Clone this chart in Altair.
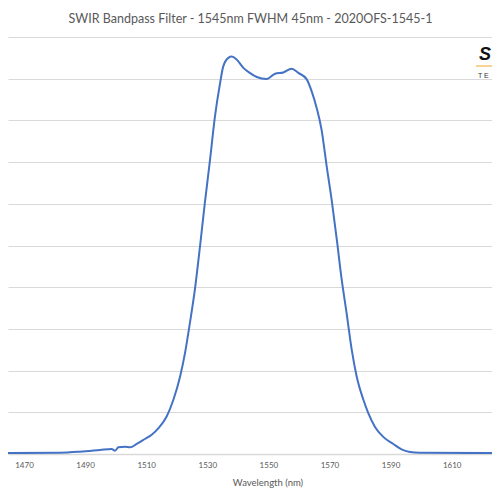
import altair as alt
import pandas as pd

wavelength_nm = [1462.1, 1481.8, 1488.3, 1494.9, 1498.7, 1499.8, 1500.9, 1503.1, 1504.7,
                 1506.9, 1509.6, 1511.8, 1514.0, 1516.7, 1518.9, 1521.1, 1522.7, 1524.3,
                 1526.0, 1527.6, 1529.2, 1530.9, 1532.5, 1534.2, 1535.2, 1536.9, 1538.0,
                 1539.6, 1541.8, 1543.9, 1546.2, 1549.4, 1552.2, 1554.9, 1557.6, 1559.8,
                 1562.5, 1564.2, 1565.8, 1567.4, 1569.1, 1570.7, 1572.4, 1574.0, 1575.6,
                 1577.3, 1578.9, 1581.1, 1582.7, 1584.9, 1587.6, 1590.9, 1593.6, 1596.3,
                 1599.6, 1625.8]
transmission_pct = [0.2, 0.3, 0.55, 0.96, 1.2, 0.8, 1.6, 1.75, 1.6,
                    2.4, 3.6, 4.6, 6.2, 9.0, 13.0, 18.6, 24.2, 31.4,
                    39.8, 49.7, 60.2, 70.6, 80.9, 89.0, 92.9, 95.0, 95.3,
                    94.6, 92.6, 91.4, 90.4, 89.9, 91.2, 91.5, 92.4, 91.4,
                    89.9, 86.9, 83.0, 77.8, 68.9, 61.0, 51.4, 41.8, 33.8,
                    24.9, 18.6, 13.0, 9.8, 6.5, 4.1, 2.4, 1.1, 0.5,
                    0.3, 0.2]
x_ticks = [1470, 1490, 1510, 1530, 1550, 1570, 1590, 1610]
y_ticks = [0, 10, 20, 30, 40, 50, 60, 70, 80, 90, 100]
title_text = "SWIR Bandpass Filter - 1545nm FWHM 45nm - 2020OFS-1545-1"

df = pd.DataFrame({"wl": wavelength_nm, "t": transmission_pct})

FONT = "Lato"
GRAY = "#595959"

line = alt.Chart(df).mark_line(
    color="#4472C4", strokeWidth=2, interpolate="monotone", clip=True
).encode(
    x=alt.X(
        "wl:Q",
        scale=alt.Scale(domain=[1464.76, 1623.2], nice=False, zero=False),
        axis=alt.Axis(
            values=x_ticks, title="Wavelength (nm)", grid=False, ticks=False, tickSize=0,
            domainColor="#d9d9d9", domainWidth=1.5, labelColor=GRAY, labelFontSize=8,
            labelFont=FONT, labelPadding=7, labelFlush=False, labelOverlap=False,
            format="d", titleColor=GRAY, titleFontSize=9.5, titleFont=FONT,
            titleFontWeight="normal", titleX=259.5, titleY=28, titleBaseline="middle",
        ),
    ),
    y=alt.Y(
        "t:Q",
        scale=alt.Scale(domain=[0, 100], nice=False),
        axis=alt.Axis(values=y_ticks, grid=True, gridColor="#d9d9d9", gridWidth=1,
                      labels=False, ticks=False, domain=False, title=None),
    ),
)

title_mark = alt.Chart(pd.DataFrame({"s": [title_text]})).mark_text(
    text=title_text, font=FONT, fontSize=12.5, color=GRAY, align="center",
    baseline="alphabetic"
).encode(x=alt.value(242.5), y=alt.value(-14.3))

logo_s = alt.Chart(pd.DataFrame({"s": ["S"]})).mark_text(
    text="S", font="Liberation Sans", fontSize=18, fontWeight="bold", fontStyle="italic",
    color="#111111", align="right", baseline="middle"
).encode(x=alt.value(483), y=alt.value(18))

logo_line = alt.Chart(pd.DataFrame({"s": [1]})).mark_rule(
    color="#F0A830", strokeWidth=1
).encode(x=alt.value(468), x2=alt.value(484), y=alt.value(29))

logo_te = alt.Chart(pd.DataFrame({"s": ["TE"]})).mark_text(
    text="T E", font="Liberation Sans", fontSize=7, color="#333333",
    align="left", baseline="middle"
).encode(x=alt.value(470), y=alt.value(39))

chart = alt.layer(line, title_mark, logo_s, logo_line, logo_te).properties(
    width=484, height=417,
    padding={"left": 0, "top": 29, "right": 0, "bottom": 37},
    autosize=alt.AutoSizeParams(type="none"),
).configure_view(stroke=None)

chart.save("out.html", embed_options={"renderer": "svg", "actions": False})
